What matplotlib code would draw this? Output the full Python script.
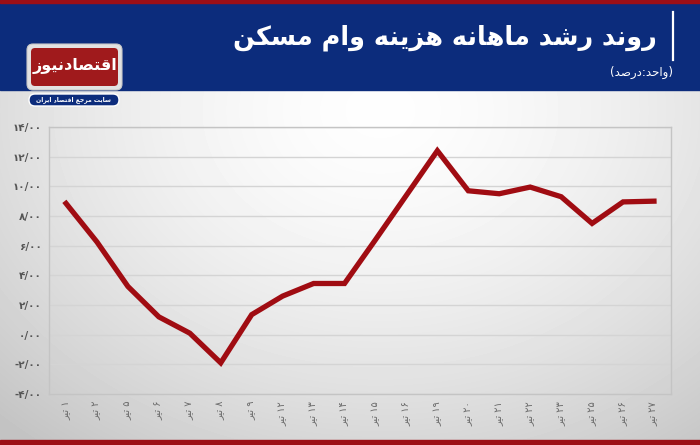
import re
import numpy as np
import matplotlib
matplotlib.use("Agg")
import matplotlib.pyplot as plt
from matplotlib.patches import Rectangle, FancyBboxPatch

# Chart data
days = [1, 2, 5, 6, 7, 8, 9, 12, 13, 14, 15, 16, 19, 20, 21, 22, 23, 25, 26, 27]
growth = [8.85, 6.25, 3.25, 1.2, 0.1, -1.9, 1.35, 2.6, 3.45, 3.45,
          6.4, 9.4, 12.4, 9.7, 9.5, 9.95, 9.3, 7.5, 8.95, 9.0]
y_ticks = [-4, -2, 0, 2, 4, 6, 8, 10, 12, 14]
month = "تیر"
title = "روند رشد ماهانه هزینه وام مسکن"
unit = "(واحد:درصد)"
logo = "اقتصادنیوز"
logo_sub = "سایت مرجع اقتصاد ایران"

# Minimal Persian shaping (matplotlib does not join Arabic letters itself)
FORMS = {
    "ا": "\uFE8D\uFE8E", "د": "\uFEA9\uFEAA", "ر": "\uFEAD\uFEAE",
    "ز": "\uFEAF\uFEB0", "و": "\uFEED\uFEEE",
    "ب": "\uFE8F\uFE90\uFE91\uFE92", "ت": "\uFE95\uFE96\uFE97\uFE98",
    "ج": "\uFE9D\uFE9E\uFE9F\uFEA0", "ح": "\uFEA1\uFEA2\uFEA3\uFEA4",
    "س": "\uFEB1\uFEB2\uFEB3\uFEB4", "ش": "\uFEB5\uFEB6\uFEB7\uFEB8",
    "ص": "\uFEB9\uFEBA\uFEBB\uFEBC", "ع": "\uFEC9\uFECA\uFECB\uFECC",
    "ق": "\uFED5\uFED6\uFED7\uFED8", "ل": "\uFEDD\uFEDE\uFEDF\uFEE0",
    "م": "\uFEE1\uFEE2\uFEE3\uFEE4", "ن": "\uFEE5\uFEE6\uFEE7\uFEE8",
    "ه": "\uFEE9\uFEEA\uFEEB\uFEEC", "ی": "\uFBFC\uFBFD\uFBFE\uFBFF",
    "ک": "\uFB8E\uFB8F\uFB90\uFB91",
}
DUAL = {k for k, v in FORMS.items() if len(v) == 4}
MIRROR = {"(": ")", ")": "("}


def shape(text):
    out = []
    for i, c in enumerate(text):
        if c not in FORMS:
            out.append(c)
            continue
        prev = text[i - 1] if i > 0 else ""
        nxt = text[i + 1] if i + 1 < len(text) else ""
        f = FORMS[c]
        jp = prev in DUAL
        jn = len(f) == 4 and nxt in FORMS
        if jp and jn:
            out.append(f[3])
        elif jp:
            out.append(f[1])
        elif jn:
            out.append(f[2])
        else:
            out.append(f[0])
    return "".join(out)


def rtl(text):
    runs = re.findall(r"[0-9\u06F0-\u06F9/.\-]+|[^0-9\u06F0-\u06F9/.\-]+", shape(text))
    vis = []
    for r in reversed(runs):
        if re.match(r"[0-9\u06F0-\u06F9]", r):
            vis.append(r)
        else:
            vis.append("".join(MIRROR.get(c, c) for c in reversed(r)))
    return "".join(vis)


def fa(s):
    return s.translate(str.maketrans("0123456789", "۰۱۲۳۴۵۶۷۸۹"))


plt.rcParams["font.family"] = ["DejaVu Sans"]

fig = plt.figure(figsize=(7, 4.45), dpi=100)

# background, header and logo drawn in pixel coordinates
bg = fig.add_axes([0, 0, 1, 1])
bg.set_xlim(0, 700)
bg.set_ylim(445, 0)
bg.axis("off")

yy, xx = np.mgrid[90:440, 0:700]
d = np.sqrt(((xx - 380) / 420.0) ** 2 + ((yy - 110) / 330.0) ** 2)
shade = 0.995 - 0.15 * np.clip(d, 0, 1.3) ** 1.6
bg.imshow(shade, cmap="gray", vmin=0, vmax=1, extent=[0, 700, 440, 90],
          aspect="auto", zorder=0)

bg.add_patch(Rectangle((0, 0), 700, 90, color="#0c2c7c", zorder=1))
bg.add_patch(Rectangle((0, 0), 700, 3, color="#9c0f16", zorder=2))
bg.add_patch(Rectangle((0, 440), 700, 5, color="#9c0f16", zorder=2))

bg.text(657, 38, rtl(title), color="white", fontsize=18.4, fontweight="bold",
        ha="right", va="center", zorder=3)
bg.plot([673, 673], [12, 60], color="white", lw=1.6, zorder=3)
bg.text(673, 72, rtl(unit), color="white", fontsize=8.5, ha="right",
        va="center", zorder=3)

# logo
bg.add_patch(FancyBboxPatch((27, 44), 95, 46, boxstyle="round,pad=0,rounding_size=6",
                            fc="#e2e2e2", ec="#c8c8c8", lw=0.8, zorder=3))
bg.add_patch(FancyBboxPatch((31, 48), 87, 38, boxstyle="round,pad=0,rounding_size=4",
                            fc="#a01a1c", ec="none", zorder=3))
bg.text(74.5, 66, rtl(logo), color="white", fontsize=11.5, fontweight="bold",
        ha="center", va="center", zorder=4)
bg.add_patch(FancyBboxPatch((29, 94), 90, 12, boxstyle="round,pad=0,rounding_size=6",
                            fc="#0c2c7c", ec="white", lw=1, zorder=3))
bg.text(74, 100, rtl(logo_sub), color="white", fontsize=4.4, fontweight="bold",
        ha="center", va="center", zorder=4)

# line chart
ax = fig.add_axes([49 / 700, 1 - 394 / 445, 622 / 700, 267 / 445])
ax.patch.set_alpha(0)
x = np.arange(len(days))
ax.plot(x, growth, color="#a00c12", lw=3.8, solid_joinstyle="miter", zorder=3)

ax.set_xlim(-0.55, len(days) - 0.45)
ax.set_ylim(-4, 14)
ax.set_yticks(y_ticks)
ax.set_yticklabels([fa("%.2f" % v).replace(".", "/") for v in y_ticks],
                   fontsize=7.5, fontweight="bold", color="#555555")
ax.set_xticks(x)
ax.set_xticklabels([rtl(fa(str(dd)) + " " + month) for dd in days],
                   rotation=90, fontsize=7, color="#6a6a6a")
ax.tick_params(length=0, pad=5)
ax.grid(axis="y", color="#d4d4d4", lw=1)
ax.set_axisbelow(True)
for s in ax.spines.values():
    s.set_color("#c4c4c4")
    s.set_linewidth(1)

fig.savefig("out.png", dpi=100)
